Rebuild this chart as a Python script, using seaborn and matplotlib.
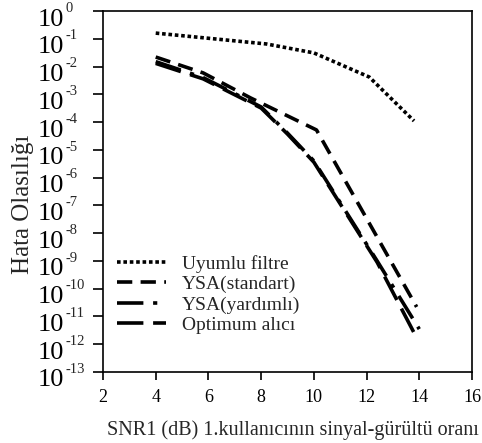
import matplotlib
matplotlib.use("Agg")
import matplotlib.pyplot as plt
import matplotlib.transforms as mtransforms
import seaborn as sns
import numpy as np
import pandas as pd

# ---- data ----
x_uyumlu = [4.0, 8.2, 10.0, 12.1, 13.8]
y_uyumlu = [0.16, 0.065, 0.031, 0.0042, 1.1e-4]

x_standart = [4.0, 5.8, 7.6, 10.1, 13.9]
y_standart = [0.022, 5.9e-3, 7.4e-4, 5.2e-5, 2.2e-11]

x_yardimli = [4.0, 5.8, 8.0, 9.0, 10.0, 12.4, 14.0]
y_yardimli = [0.015, 4.0e-3, 3.5e-4, 4.0e-5, 4.0e-6, 1.0e-9, 3.5e-12]

x_optimum = [4.0, 5.8, 8.0, 9.0, 10.0, 12.4, 13.8]
y_optimum = [0.013, 3.6e-3, 3.2e-4, 3.7e-5, 3.6e-6, 9.0e-10, 2.6e-12]

labels = ["Uyumlu filtre", "YSA(standart)", "YSA(yardımlı)", "Optimum alıcı"]

x_ticks = [2, 4, 6, 8, 10, 12, 14, 16]
y_exponents = list(range(0, -14, -1))
y_tick_base = "10"
y_tick_sups = [str(e) for e in y_exponents]

xlabel = "SNR1 (dB) 1.kullanıcının sinyal-gürültü oranı"
ylabel = "Hata Olasılığı"

# ---- style ----
sns.set_style("ticks")
plt.rcParams["font.family"] = ["Liberation Serif", "DejaVu Serif"]
plt.rcParams["lines.scale_dashes"] = False

fig = plt.figure(figsize=(4.82, 4.43), dpi=100)
ax = fig.add_axes([103 / 482, 1 - 372 / 443, 369 / 482, 361 / 443])
ax.set_yscale("log")

series = [
    (x_uyumlu, y_uyumlu, (0, (2.6, 2.0))),
    (x_standart, y_standart, (0, (11, 6))),
    (x_yardimli, y_yardimli, (0, (19, 7, 3, 7))),
    (x_optimum, y_optimum, (0, (19, 7))),
]
for (xs, ys, ls), lab in zip(series, labels):
    df = pd.DataFrame({"x": xs, "y": ys})
    sns.lineplot(data=df, x="x", y="y", ax=ax, color="black", linewidth=2.6,
                 linestyle=ls, label=lab, dash_capstyle="butt",
                 solid_capstyle="butt", estimator=None, sort=False)

ax.set_xlim(2, 16)
ax.set_ylim(1e-13, 1e0)
ax.set_xticks(x_ticks)
ax.set_xticklabels([str(t) for t in x_ticks], fontsize=13)
ax.set_yticks([10.0 ** e for e in y_exponents])
ax.set_yticklabels([y_tick_base] * len(y_exponents), fontsize=19)
ax.yaxis.set_minor_locator(matplotlib.ticker.NullLocator())
ax.tick_params(axis="y", length=7.5, width=1.2, pad=39.5, colors="black")
ax.tick_params(axis="x", length=6, width=1.2, pad=6, colors="black")

shift = mtransforms.ScaledTranslation(0, -6 / 100, fig.dpi_scale_trans)
for lbl in ax.get_yticklabels():
    lbl.set_horizontalalignment("left")
    lbl.set_transform(lbl.get_transform() + shift)

# exponent superscripts
for e, s in zip(y_exponents, y_tick_sups):
    ax.annotate(s, xy=(0, 10.0 ** e), xycoords=("axes fraction", "data"),
                xytext=(-37 * 0.72, 2.0), textcoords="offset points",
                ha="left", va="center", fontsize=10.5, annotation_clip=False)

for sp in ax.spines.values():
    sp.set_visible(True)
    sp.set_linewidth(1.2)
    sp.set_color("black")

ax.set_xlabel(xlabel, fontsize=14.5)
ax.xaxis.set_label_coords(0.5135, -0.135)
ax.set_ylabel(ylabel, fontsize=18)
ax.yaxis.set_label_coords(-0.187, 0.465)

leg = ax.legend(loc="upper left", bbox_to_anchor=(0.038, 0.325), frameon=False,
                fontsize=14, handlelength=2.5, handletextpad=0.85,
                labelspacing=0.15, borderaxespad=0.0, borderpad=0.0)

fig.savefig("out.png", dpi=100)
